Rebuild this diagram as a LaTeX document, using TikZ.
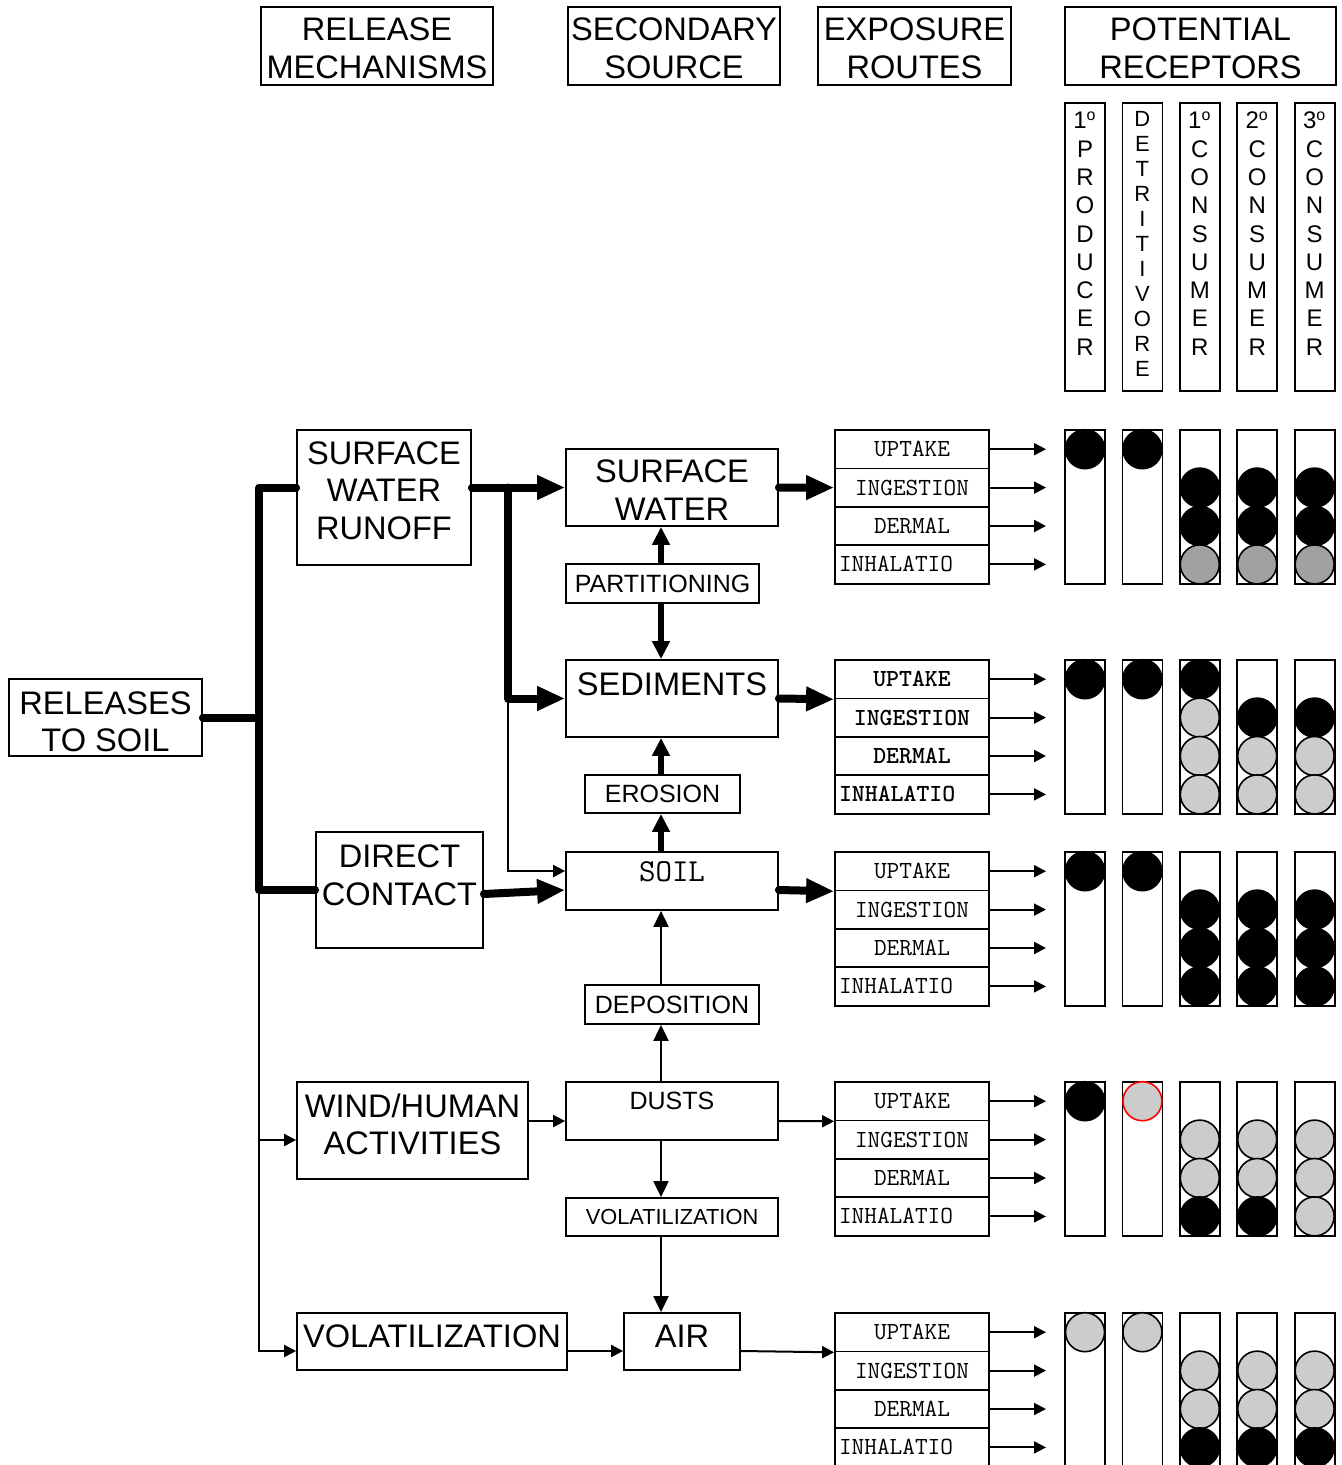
\documentclass[tikz,border=0pt]{standalone}
\usepackage{fontspec}
\setmainfont{Liberation Sans}
\usepackage{tikz}
\usetikzlibrary{arrows.meta,positioning,calc}
\definecolor{darkdot}{gray}{0.63}
\definecolor{lightdot}{gray}{0.8}
\newcommand{\fbig}{\fontsize{16.3}{18.8}\selectfont}
\newcommand{\fmed}{\fontsize{12.5}{14}\selectfont}
\newcommand{\fsm}{\fontsize{10.9}{12}\selectfont}
\newcommand{\froute}{\ttfamily\fontsize{12.3}{14}\selectfont}
\newcommand{\fsoil}{\ttfamily\fontsize{16}{18}\selectfont}
\newcommand{\frec}{\fontsize{12}{14.15}\selectfont}
\newcommand{\fdet}{\fontsize{11}{12.5}\selectfont}
\tikzset{box/.style={rectangle, draw, line width=0.9pt, inner sep=0pt, align=center, font=\fbig}, route/.style={rectangle, draw, line width=0.9pt, inner sep=0pt, minimum width=77pt, minimum height=19.2pt, font=\froute}, bar/.style={rectangle, draw, line width=0.9pt, inner sep=0pt, minimum width=20pt, minimum height=76.8pt}, hbar/.style={rectangle, draw, line width=0.9pt, inner sep=0pt, minimum width=20pt, minimum height=144pt}, rtext/.style={inner sep=0pt, align=center, font=\frec}, fatline/.style={line width=4pt, line cap=round, line join=round}, fatarr/.style={fatline, -{Triangle[length=14pt,width=11.5pt]}}, midarr/.style={line width=2.7pt, -{Triangle[length=9pt,width=8.5pt]}}, thinarr/.style={line width=1pt, -{Triangle[length=6pt,width=6pt]}}, droparr/.style={line width=1pt, -{Triangle[length=8pt,width=7.5pt]}}, dot/.style={line width=0.8pt, draw=black}}
\begin{document}
\begin{tikzpicture}[x=0.5pt, y=-0.5pt]
\path[use as bounding box, fill=white] (0,0) rectangle (1341,1465);
% column headers
\node[box, minimum width=116pt, minimum height=39pt, text height=32.7pt] (hrel) at (377,46) {RELEASE\\MECHANISMS};
\node[box, minimum width=106pt, minimum height=39pt, text height=32.7pt] (hsec) at (674,46) {SECONDARY\\SOURCE};
\node[box, minimum width=96.5pt, minimum height=39pt, text height=32.7pt] (hexp) at (914.5,46) {EXPOSURE\\ROUTES};
\node[box, minimum width=135.5pt, minimum height=39pt, text height=32.7pt] (hrec) at (1200.5,46) {POTENTIAL\\RECEPTORS};
\foreach \c in {0,...,4} {\node[hbar] (hc\c) at (1085+57.4*\c,247) {};}
\node[rtext, anchor=north] (tprod) at ([yshift=-4.5pt]hc0.north) {1\textsuperscript{o}\\P\\R\\O\\D\\U\\C\\E\\R};
\node[rtext, font=\fdet, anchor=north] (tdet) at ([yshift=-4.5pt]hc1.north) {D\\E\\T\\R\\I\\T\\I\\V\\O\\R\\E};
\node[rtext, anchor=north] (tcon1) at ([yshift=-4.5pt]hc2.north) {1\textsuperscript{o}\\C\\O\\N\\S\\U\\M\\E\\R};
\node[rtext, anchor=north] (tcon2) at ([yshift=-4.5pt]hc3.north) {2\textsuperscript{o}\\C\\O\\N\\S\\U\\M\\E\\R};
\node[rtext, anchor=north] (tcon3) at ([yshift=-4.5pt]hc4.north) {3\textsuperscript{o}\\C\\O\\N\\S\\U\\M\\E\\R};
% release mechanisms and sources
\node[box, minimum width=96.5pt, minimum height=38.5pt, text height=34.4pt] (rel) at (105.5,717.5) {RELEASES\\TO SOIL};
\node[box, minimum width=87pt, minimum height=67.5pt, text depth=7pt] (swr) at (384,497.5) {SURFACE\\WATER\\RUNOFF};
\node[box, minimum width=83.5pt, minimum height=58pt, text depth=15pt] (dc) at (399.5,890) {DIRECT\\CONTACT};
\node[box, minimum width=115.5pt, minimum height=48.5pt, text depth=6.5pt] (wh) at (412.5,1130.5) {WIND/HUMAN\\ACTIVITIES};
\node[box, minimum width=135pt, minimum height=28.5pt, text depth=5.5pt] (vol) at (432,1341.5) {VOLATILIZATION};
\node[box, minimum width=106pt, minimum height=38.5pt, text height=33pt] (sw) at (672,487.5) {SURFACE\\WATER};
\node[box, minimum width=106pt, minimum height=38.5pt, text depth=14.5pt] (sed) at (672,698.5) {SEDIMENTS};
\node[box, minimum width=106pt, minimum height=29pt, font=\fsoil, text height=9pt, text depth=9pt] (soil) at (672,881) {SOIL};
\node[box, minimum width=106pt, minimum height=29pt, font=\fmed, text height=9pt, text depth=11pt] (dusts) at (672,1111) {DUSTS};
\node[box, minimum width=58pt, minimum height=28.5pt, text depth=5.5pt] (air) at (682,1341.5) {AIR};
\node[box, minimum width=96.5pt, minimum height=19.5pt, font=\fmed] (part) at (662.5,583.5) {PARTITIONING};
\node[box, minimum width=77.5pt, minimum height=19pt, font=\fmed] (ero) at (662.5,794) {EROSION};
\node[box, minimum width=87pt, minimum height=19.5pt, font=\fmed] (dep) at (672,1004.5) {DEPOSITION};
\node[box, minimum width=106pt, minimum height=19pt, font=\fsm] (volsm) at (672,1217) {VOLATILIZATION};
% helper coordinates
\coordinate (tk) at (259,0);
\coordinate (br) at (508,0);
\coordinate (mx) at (661,0);
\coordinate (tipx) at (1046,0);
\coordinate (ysoil) at (0,890);
\coordinate (ythin) at (0,871);
\coordinate (ydust) at (0,1121);
\coordinate (ywh) at (0,1140);
\coordinate (yair) at (0,1351);
% exposure routes and receptor bars
\foreach \i/\yt/\ff in {1/430/\mdseries, 2/660/\bfseries, 3/852/\mdseries, 4/1082/\mdseries, 5/1313/\mdseries} {
  \node[route, font=\froute\ff] (r\i-u) at (912,\yt+19.2) {UPTAKE};
  \node[route, font=\froute\ff] (r\i-g) at (912,\yt+57.6) {INGESTION};
  \node[route, font=\froute\ff] (r\i-d) at (912,\yt+96) {DERMAL};
  \node[route, font=\froute\ff, text width=73pt, align=left] (r\i-h) at (912,\yt+134.4) {INHALATIO};
  \foreach \s in {u,g,d,h} {\draw[thinarr] (r\i-\s.east) -- (tipx |- r\i-\s.east);}
  \foreach \c in {0,...,4} {\node[bar] (b\i-\c) at (1085+57.4*\c,\yt+76.8) {};}
}
% receptor dots
\foreach \c/\k/\f in {0/0/black, 1/0/black, 2/1/black, 2/2/black, 2/3/darkdot, 3/1/black, 3/2/black, 3/3/darkdot, 4/1/black, 4/2/black, 4/3/darkdot} {\draw[dot, fill=\f] (1085+57.4*\c,430+19.2+38.4*\k) circle[radius=19.5];}
\foreach \c/\k/\f in {0/0/black, 1/0/black, 2/0/black, 2/1/lightdot, 2/2/lightdot, 2/3/lightdot, 3/1/black, 3/2/lightdot, 3/3/lightdot, 4/1/black, 4/2/lightdot, 4/3/lightdot} {\draw[dot, fill=\f] (1085+57.4*\c,660+19.2+38.4*\k) circle[radius=19.5];}
\foreach \c/\k/\f in {0/0/black, 1/0/black, 2/1/black, 2/2/black, 2/3/black, 3/1/black, 3/2/black, 3/3/black, 4/1/black, 4/2/black, 4/3/black} {\draw[dot, fill=\f] (1085+57.4*\c,852+19.2+38.4*\k) circle[radius=19.5];}
\foreach \c/\k/\f in {0/0/black, 2/1/lightdot, 2/2/lightdot, 2/3/black, 3/1/lightdot, 3/2/lightdot, 3/3/black, 4/1/lightdot, 4/2/lightdot, 4/3/lightdot} {\draw[dot, fill=\f] (1085+57.4*\c,1082+19.2+38.4*\k) circle[radius=19.5];}
\draw[dot, draw=red, fill=lightdot] (1085+57.4,1082+19.2) circle[radius=19.5];
\foreach \c/\k/\f in {0/0/lightdot, 1/0/lightdot, 2/1/lightdot, 2/2/lightdot, 2/3/black, 3/1/lightdot, 3/2/lightdot, 3/3/black, 4/1/lightdot, 4/2/lightdot, 4/3/black} {\draw[dot, fill=\f] (1085+57.4*\c,1313+19.2+38.4*\k) circle[radius=19.5];}
% release pathways
\draw[fatline] (rel.east) -- (tk |- rel.east);
\draw[fatline] (swr.west |- sw.west) -| (tk |- dc.west) -- (dc.west);
\draw[thinarr] (tk |- dc.west) |- (vol.west |- yair);
\draw[thinarr] (tk |- ywh) -- (wh.west |- ywh);
\draw[fatarr] (swr.east |- sw.west) -- (sw.west);
\draw[fatarr] (br |- sw.west) |- (sed.west);
\draw[thinarr] (br |- sed.west) |- (soil.west |- ythin);
\draw[fatarr] ($(dc.east)+(0,4)$) -- (soil.west |- ysoil);
\draw[thinarr] (wh.east |- ydust) -- (dusts.west |- ydust);
\draw[thinarr] (vol.east |- yair) -- (air.west |- yair);
% transfers between media
\draw[midarr] (part.north -| mx) -- (sw.south -| mx);
\draw[midarr] (part.south -| mx) -- (sed.north -| mx);
\draw[midarr] (ero.north -| mx) -- (sed.south -| mx);
\draw[midarr] (soil.north -| mx) -- (ero.south -| mx);
\draw[droparr] (dep.north -| mx) -- (soil.south -| mx);
\draw[droparr] (dusts.north -| mx) -- (dep.south -| mx);
\draw[droparr] (dusts.south -| mx) -- (volsm.north -| mx);
\draw[droparr] (volsm.south -| mx) -- (air.north -| mx);
% media to exposure routes
\draw[fatarr] (sw.east) -- (r1-g.west);
\draw[fatarr] (sed.east) -- (r2-u.south west);
\draw[fatarr] (soil.east |- ysoil) -- (r3-u.south west);
\draw[thinarr] (dusts.east |- ydust) -- (r4-u.south west);
\draw[thinarr] (air.east |- yair) -- (r5-u.south west);
\end{tikzpicture}
\end{document}
